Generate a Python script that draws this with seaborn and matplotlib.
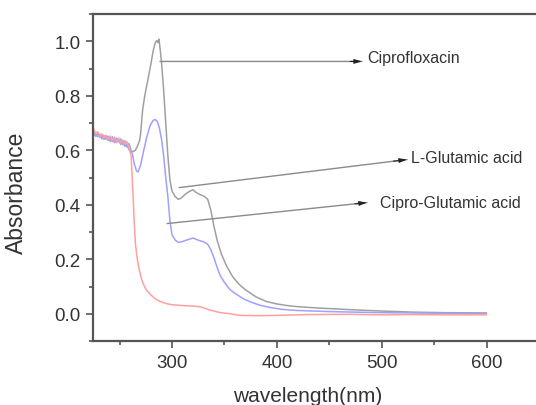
# uv_vis_spectra.py
# UV-Vis absorbance of ciprofloxacin, L-glutamic acid and the cipro-glutamic acid product

import matplotlib
matplotlib.use("Agg")
import matplotlib.pyplot as plt
from matplotlib.ticker import MultipleLocator
import seaborn as sns

# ----------------------------
# Data
# ----------------------------
wl_noise = [225, 227, 229, 231, 233, 235, 237, 239, 241, 243,
            245, 247, 249, 251, 253, 255, 257, 259, 261]

# grey curve
wl_cipro = wl_noise + [263, 265, 267, 269, 270, 272, 274, 276, 278, 280, 282, 284,
                       285.5, 286.5, 287.5, 289, 290, 292, 294, 296, 298, 300,
                       303, 306, 309, 313, 317, 320, 323, 327, 331, 334, 337,
                       340, 343, 347, 352, 358, 364, 370, 380, 390, 400, 410,
                       420, 440, 470, 500, 530, 560, 600]
abs_cipro = [0.670, 0.652, 0.660, 0.648, 0.656, 0.640, 0.650, 0.636, 0.648, 0.632,
             0.642, 0.628, 0.640, 0.622, 0.630, 0.615, 0.620, 0.602, 0.595] + \
            [0.596, 0.600, 0.615, 0.635, 0.660, 0.750, 0.800, 0.840, 0.880, 0.920,
             0.965, 0.995, 1.003, 0.995, 1.008, 0.960, 0.920, 0.820, 0.700, 0.580,
             0.490, 0.450, 0.430, 0.420, 0.425, 0.440, 0.450, 0.455, 0.445, 0.437,
             0.430, 0.420, 0.380, 0.320, 0.270, 0.220, 0.175, 0.135, 0.108, 0.088,
             0.062, 0.045, 0.036, 0.030, 0.026, 0.021, 0.015, 0.010, 0.006, 0.004,
             0.003]

# blue curve
wl_mix = wl_noise + [262, 264, 266, 267.5, 270, 273, 276, 279, 282, 284, 286, 288,
                     290, 292, 294, 296, 298, 300, 303, 306, 310, 315, 320, 325,
                     330, 334, 337, 340, 343, 346, 350, 355, 360, 368, 375, 385,
                     395, 405, 420, 450, 500, 550, 600]
abs_mix = [0.665, 0.655, 0.650, 0.660, 0.642, 0.655, 0.640, 0.652, 0.632, 0.650,
           0.628, 0.645, 0.632, 0.642, 0.620, 0.635, 0.612, 0.625, 0.598] + \
          [0.590, 0.550, 0.525, 0.520, 0.545, 0.600, 0.650, 0.690, 0.710, 0.713,
           0.705, 0.680, 0.640, 0.580, 0.500, 0.430, 0.340, 0.290, 0.270, 0.262,
           0.265, 0.272, 0.278, 0.270, 0.264, 0.255, 0.235, 0.205, 0.170, 0.140,
           0.115, 0.090, 0.075, 0.055, 0.043, 0.030, 0.022, 0.016, 0.012, 0.008,
           0.004, 0.002, 0.000]

# red curve
wl_glu = wl_noise + [262, 263, 264, 265, 266.5, 268, 270, 272, 275, 280, 285, 290,
                     295, 300, 310, 320, 327, 335, 345, 355, 365, 380, 400, 430,
                     470, 500, 530, 560, 600]
abs_glu = [0.680, 0.662, 0.668, 0.652, 0.660, 0.645, 0.655, 0.638, 0.652, 0.634,
           0.648, 0.630, 0.645, 0.626, 0.638, 0.622, 0.632, 0.608, 0.580] + \
          [0.500, 0.420, 0.330, 0.260, 0.210, 0.175, 0.140, 0.115, 0.090, 0.068,
           0.052, 0.043, 0.037, 0.033, 0.030, 0.028, 0.026, 0.015, 0.005, 0.000,
           -0.006, -0.007, -0.006, -0.003, -0.002, -0.004, -0.003, -0.004, -0.004]

# annotations: label, arrow tail (on curve), arrow tip, text anchor
labels = ["Ciprofloxacin", "L-Glutamic acid", "Cipro-Glutamic acid"]
tails = [(288.5, 0.926), (306.7, 0.463), (295.2, 0.331)]
tips = [(481.3, 0.926), (524.2, 0.566), (486.0, 0.408)]
text_pos = [(486.0, 0.940), (527.5, 0.574), (498.5, 0.410)]

# ----------------------------
# Plot
# ----------------------------
sns.set_style("ticks")
plt.rcParams["font.family"] = ["Liberation Sans", "DejaVu Sans"]

fig = plt.figure(figsize=(5.36, 4.06), dpi=100)
ax = fig.add_axes([0.1735, 0.1576, 0.834, 0.8054])

sns.lineplot(x=wl_cipro, y=abs_cipro, color="#a0a0a0", lw=1.1, ax=ax)
sns.lineplot(x=wl_mix, y=abs_mix, color="#a0a0ff", lw=1.1, ax=ax)
sns.lineplot(x=wl_glu, y=abs_glu, color="#ffa0a0", lw=1.1, ax=ax)

for lab, tail, tip, tp in zip(labels, tails, tips, text_pos):
    # grey leader line
    ax.annotate("", xy=tip, xytext=tail,
                arrowprops=dict(arrowstyle="-", color="#8a8a8a", lw=1.0,
                                shrinkA=0, shrinkB=0))
    # small dark arrow head at the label end
    near = (tip[0] - 0.06 * (tip[0] - tail[0]), tip[1] - 0.06 * (tip[1] - tail[1]))
    ax.annotate("", xy=tip, xytext=near,
                arrowprops=dict(arrowstyle="-|>,head_length=0.45,head_width=0.13",
                                color="#222222", lw=0.8, shrinkA=0, shrinkB=0))
    ax.text(tp[0], tp[1], lab, fontsize=11.5, color="#333333",
            ha="left", va="center")

ax.set_xlim(224.6, 651)
ax.set_ylim(-0.1, 1.1)
ax.xaxis.set_minor_locator(MultipleLocator(50))
ax.yaxis.set_minor_locator(MultipleLocator(0.1))
ax.set_yticks([0.0, 0.2, 0.4, 0.6, 0.8, 1.0])
ax.set_xticks([300, 400, 500, 600])

ax.tick_params(which="major", direction="out", length=5, width=1.2,
               color="#555555", labelsize=13.5, labelcolor="#333333", pad=4)
ax.tick_params(which="minor", direction="out", length=3, width=1.2, color="#555555")
ax.tick_params(top=False, right=False)

for side in ["left", "bottom", "top"]:
    ax.spines[side].set_color("#555555")
    ax.spines[side].set_linewidth(1.6)
ax.spines["right"].set_visible(False)

ax.set_xlabel("wavelength(nm)", fontsize=15, color="#333333")
ax.set_ylabel("Absorbance", fontsize=16.5, color="#333333")
ax_w = 0.834 * 536
ax_h = 0.8054 * 406
ax.xaxis.set_label_coords((308 - 93) / ax_w, -(387 - 342) / ax_h)
ax.yaxis.set_label_coords(-(93 - 28) / ax_w, (342 - 193) / ax_h)

fig.savefig("out.png", dpi=100)
